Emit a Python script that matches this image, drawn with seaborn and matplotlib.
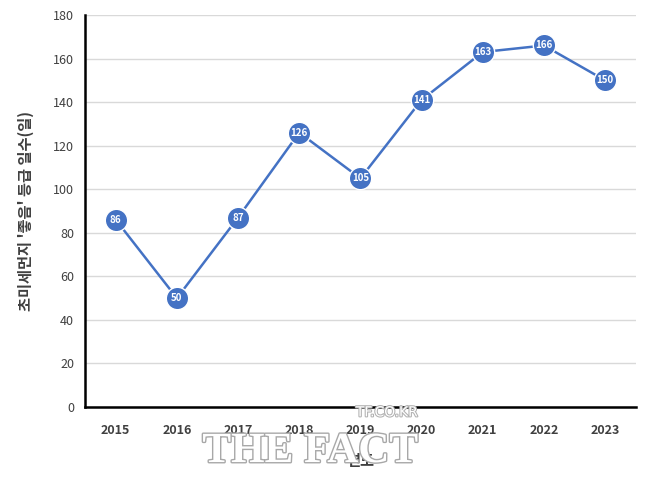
import numpy as np
import pandas as pd
import matplotlib
matplotlib.use("Agg")
import matplotlib.pyplot as plt
import matplotlib.patheffects as pe
import seaborn as sns

years = ["2015", "2016", "2017", "2018", "2019", "2020", "2021", "2022", "2023"]
good_days = [86, 50, 87, 126, 105, 141, 163, 166, 150]
y_ticks = [0, 20, 40, 60, 80, 100, 120, 140, 160, 180]

sns.set_style("white")
plt.rcParams['font.family'] = ['Noto Sans CJK KR', 'DejaVu Sans']

data = pd.DataFrame({"year": years, "days": good_days})

fig = plt.figure(figsize=(6.5, 4.84), dpi=100)
ax = fig.add_axes([0.131, 0.159, 0.847, 0.81])

blue = "#4472C4"
sns.pointplot(data=data, x="year", y="days", color=blue, ax=ax,
              markers="o", linewidth=1.8, markersize=0, errorbar=None)
# markers drawn separately so labels sit on top
ax.scatter(range(len(years)), good_days, s=260, color=blue,
           edgecolor="white", linewidth=1.0, zorder=4)
for i, v in enumerate(good_days):
    ax.text(i, v, str(v), ha="center", va="center", color="white",
            fontsize=7, fontweight="bold", zorder=5)

ax.set_xlim(-0.5, len(years) - 0.5)
ax.set_ylim(0, 180)
ax.set_yticks(y_ticks)
ax.grid(axis="y", color="#d9d9d9", linewidth=1)
ax.set_axisbelow(True)
for s in ["top", "right"]:
    ax.spines[s].set_visible(False)
for s in ["left", "bottom"]:
    ax.spines[s].set_color("black")
    ax.spines[s].set_linewidth(1.8)
ax.tick_params(axis="both", length=0, labelsize=9, labelcolor="#404040", pad=8)
ax.tick_params(axis="x", pad=12)
for lab in ax.get_xticklabels():
    lab.set_fontweight("bold")

ax.set_ylabel("초미세먼지 '좋음' 등급 일수(일)", fontsize=11, fontweight="bold",
              color="#404040", labelpad=14)
ax.set_xlabel("연도", fontsize=11, fontweight="bold", color="#404040", labelpad=12)

# watermark
fig.text(0.595, 0.148, "TF.CO.KR", ha="center", va="center", fontsize=10,
         color="white", family=["DejaVu Sans"],
         path_effects=[pe.withStroke(linewidth=1.5, foreground="#b0b0b0")], zorder=10)
fig.text(0.477, 0.066, "THE FACT", ha="center", va="center", fontsize=31,
         color="white", family=["Liberation Serif"], fontweight="bold",
         path_effects=[pe.withStroke(linewidth=2, foreground="#a8a8a8")], zorder=10)

fig.savefig("out.png", dpi=100)
